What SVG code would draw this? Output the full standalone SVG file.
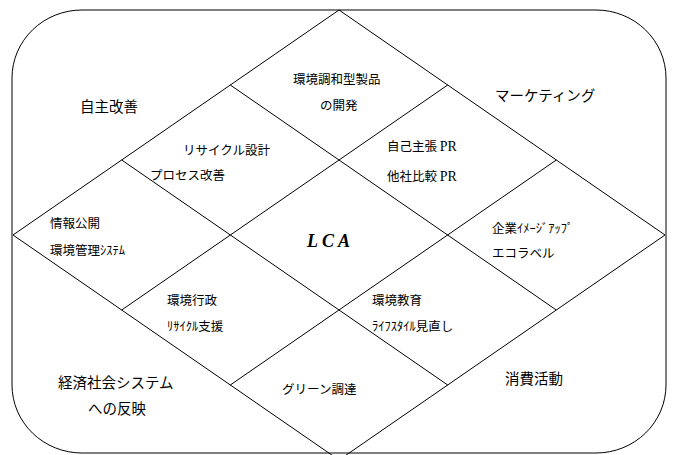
<svg xmlns="http://www.w3.org/2000/svg" width="673" height="455" viewBox="0 0 673 455">
<style>
.ln{fill:none;stroke:#000;stroke-width:1}
text{font-family:"Noto Sans CJK JP","Noto Sans",sans-serif;fill:#000}
.s13{font-size:12.5px}
.s15{font-size:14.5px}
.ser{font-family:"Liberation Serif",serif;font-size:14px}
.lca{font-family:"Liberation Serif",serif;font-weight:bold;font-style:italic;font-size:18px;letter-spacing:4px}
</style>
<rect width="673" height="455" fill="#fff"/>
<g id="connectors">
<rect class="ln" x="12" y="10" width="654" height="443" rx="70" ry="68"/>
<path class="ln" d="M339,10 L665,235 L339,460 L13,235 Z"/>
<path class="ln" d="M230.3,85 L556.3,310 M121.7,160 L447.7,385 M447.7,85 L121.7,310 M556.3,160 L230.3,385"/>
</g>
<g id="n-jishu"><text class="s15" x="80" y="112">自主改善</text></g>
<g id="n-marketing"><text class="s15" x="495" y="101">マーケティング</text></g>
<g id="n-keizai"><text class="s15" x="58" y="388">経済社会システム</text><text class="s15" x="88" y="414">への反映</text></g>
<g id="n-shohi"><text class="s15" x="505" y="384">消費活動</text></g>
<g id="n-kankyo-chowa"><text class="s13" x="293" y="84">環境調和型製品</text><text class="s13" x="320" y="110">の開発</text></g>
<g id="n-recycle"><text class="s13" x="183" y="155">リサイクル設計</text><text class="s13" x="150" y="180">プロセス改善</text></g>
<g id="n-pr"><text class="s13" x="387" y="151">自己主張 <tspan class="ser">PR</tspan></text><text class="s13" x="387" y="181">他社比較 <tspan class="ser">PR</tspan></text></g>
<g id="n-joho"><text class="s13" x="50" y="228">情報公開</text><text class="s13" x="50" y="255">環境管理ｼｽﾃﾑ</text></g>
<g id="n-lca"><text class="lca" x="307" y="247">LCA</text></g>
<g id="n-kigyo"><text class="s13" x="492" y="233">企業ｲﾒｰｼﾞｱｯﾌﾟ</text><text class="s13" x="492" y="258">エコラベル</text></g>
<g id="n-gyosei"><text class="s13" x="167" y="305">環境行政</text><text class="s13" x="167" y="331">ﾘｻｲｸﾙ支援</text></g>
<g id="n-kyoiku"><text class="s13" x="372" y="305">環境教育</text><text class="s13" x="372" y="331">ﾗｲﾌｽﾀｲﾙ見直し</text></g>
<g id="n-green"><text class="s13" x="282" y="394">グリーン調達</text></g>
</svg>
